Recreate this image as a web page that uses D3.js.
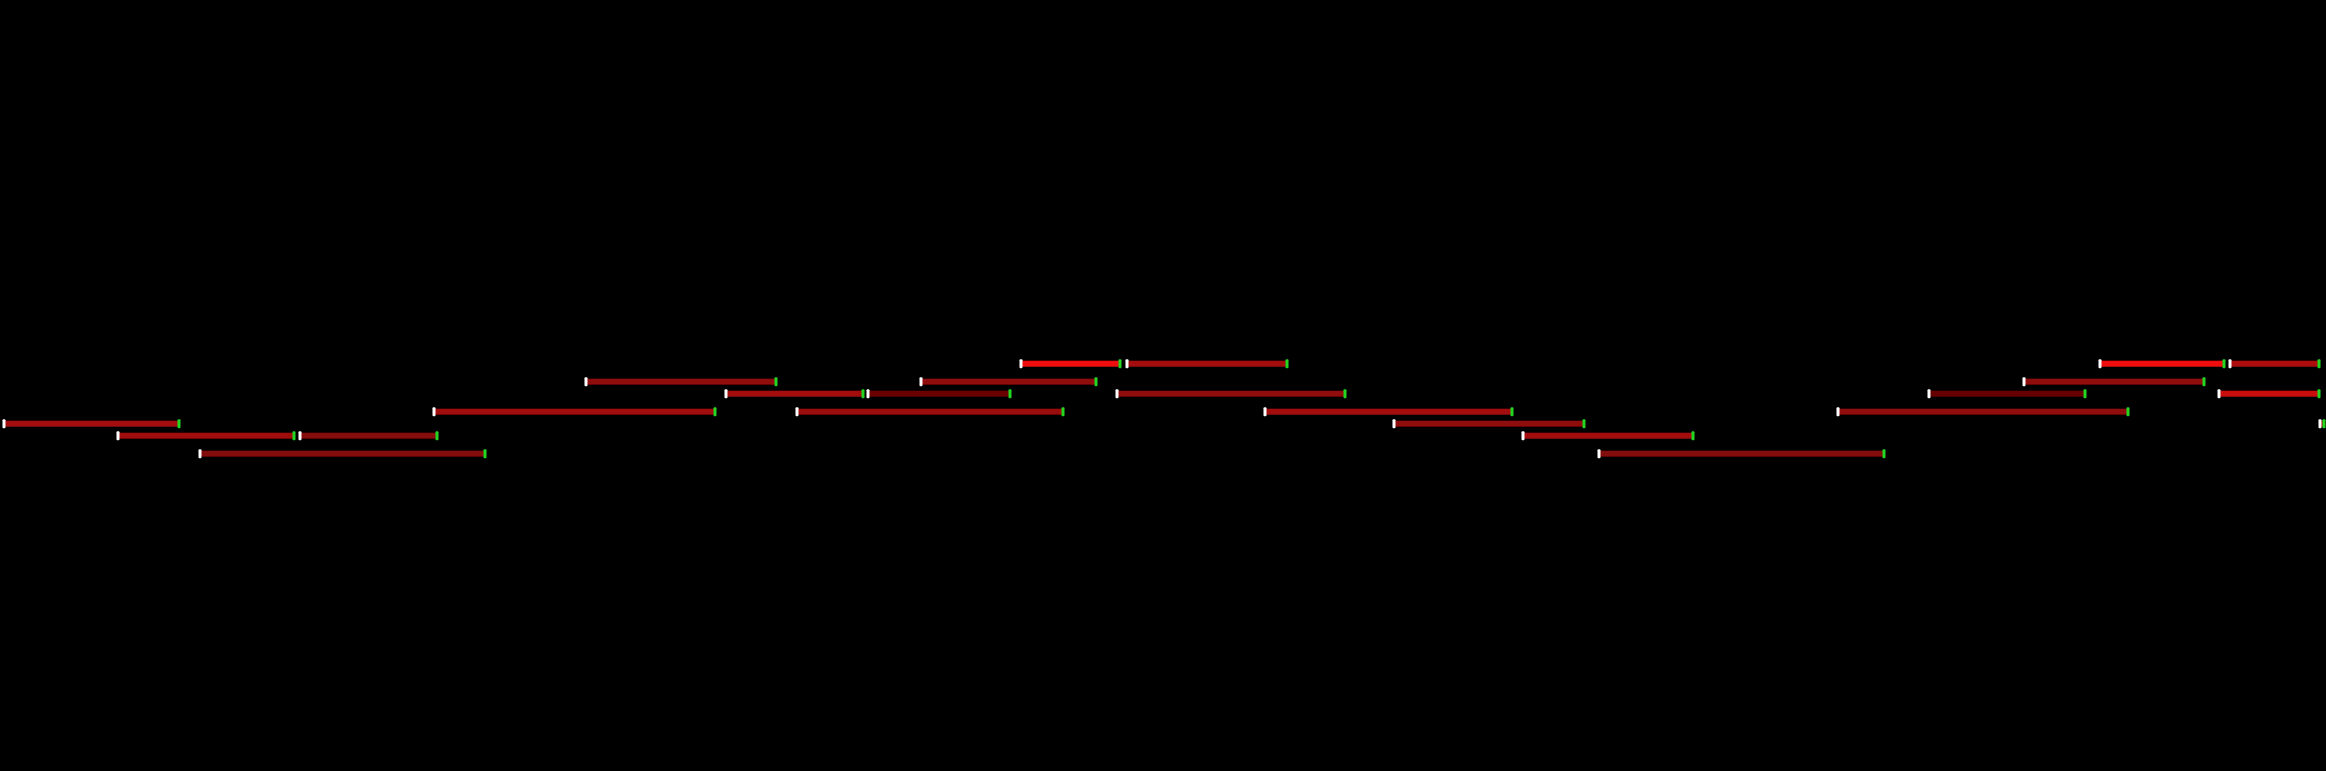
<!DOCTYPE html>
<html>
<head>
<meta charset="utf-8">
<script src="https://cdn.jsdelivr.net/npm/d3@7"></script>
<style>
  html, body { margin: 0; padding: 0; background: #000; overflow: hidden; }
</style>
</head>
<body>
<svg id="chart"></svg>
<script>
// each span: opened at start, closed at end, sitting on a level
const starts = [1021, 1127, 2100, 2230,
                586, 921, 2024,
                726, 868, 1117, 1929, 2219,
                434, 797, 1265, 1838,
                4, 1394, 2320,
                118, 300, 1523,
                200, 1599];
const ends = [1120, 1287, 2224, 2319,
              776, 1096, 2204,
              863, 1010, 1345, 2085, 2319,
              715, 1063, 1512, 2128,
              179, 1584, 2324,
              294, 437, 1693,
              485, 1884];
const levels = [15, 15, 15, 15,
                12, 12, 12,
                10, 10, 10, 10, 10,
                7, 7, 7, 7,
                5, 5, 5,
                3, 3, 3,
                0, 0];
// strength of each span, drives the red shade
const strength = [1.0, 0.6, 1.0, 0.65,
                  0.5, 0.5, 0.5,
                  0.6, 0.3, 0.5, 0.28, 0.8,
                  0.58, 0.55, 0.6, 0.5,
                  0.6, 0.5, 0.6,
                  0.58, 0.45, 0.6,
                  0.42, 0.42];

const width = 2326;
const height = 771;

const spans = starts.map((s, i) => ({
  start: s, end: ends[i], level: levels[i], strength: strength[i]
}));

const svg = d3.select('#chart')
  .attr('width', width)
  .attr('height', height)
  .style('display', 'block')
  .style('background', '#000');

svg.append('rect')
  .attr('width', width)
  .attr('height', height)
  .attr('fill', '#000');

// soft edge on the bars
const defs = svg.append('defs');
defs.append('filter')
  .attr('id', 'soft')
  .attr('x', '-5%').attr('y', '-50%')
  .attr('width', '110%').attr('height', '200%')
  .append('feGaussianBlur')
  .attr('stdDeviation', 0.6);

const xScale = d3.scaleLinear()
  .domain([0, 2326])
  .range([0, width]);

const yScale = d3.scaleLinear()
  .domain([0, 15])
  .range([453.7, 363.7]);

const color = d3.scaleLinear()
  .domain([0, 1])
  .range(['#300000', '#f01010'])
  .interpolate(d3.interpolateRgb);

const barH = 6;
const tickW = 3;
const tickH = 9;

const g = svg.append('g');

g.selectAll('rect.bar')
  .data(spans)
  .join('rect')
  .attr('class', 'bar')
  .attr('x', d => xScale(d.start))
  .attr('y', d => yScale(d.level) - barH / 2)
  .attr('width', d => xScale(d.end) - xScale(d.start))
  .attr('height', barH)
  .attr('fill', d => color(d.strength))
  .attr('filter', 'url(#soft)');

// white mark where it opens
g.selectAll('rect.open')
  .data(spans)
  .join('rect')
  .attr('class', 'open')
  .attr('x', d => xScale(d.start) - tickW / 2)
  .attr('y', d => yScale(d.level) - tickH / 2)
  .attr('width', tickW)
  .attr('height', tickH)
  .attr('rx', 1)
  .attr('fill', '#ffffff');

// green mark where it closes
g.selectAll('rect.close')
  .data(spans)
  .join('rect')
  .attr('class', 'close')
  .attr('x', d => xScale(d.end) - tickW / 2)
  .attr('y', d => yScale(d.level) - tickH / 2)
  .attr('width', tickW)
  .attr('height', tickH)
  .attr('rx', 1)
  .attr('fill', '#22d622');
</script>
</body>
</html>
